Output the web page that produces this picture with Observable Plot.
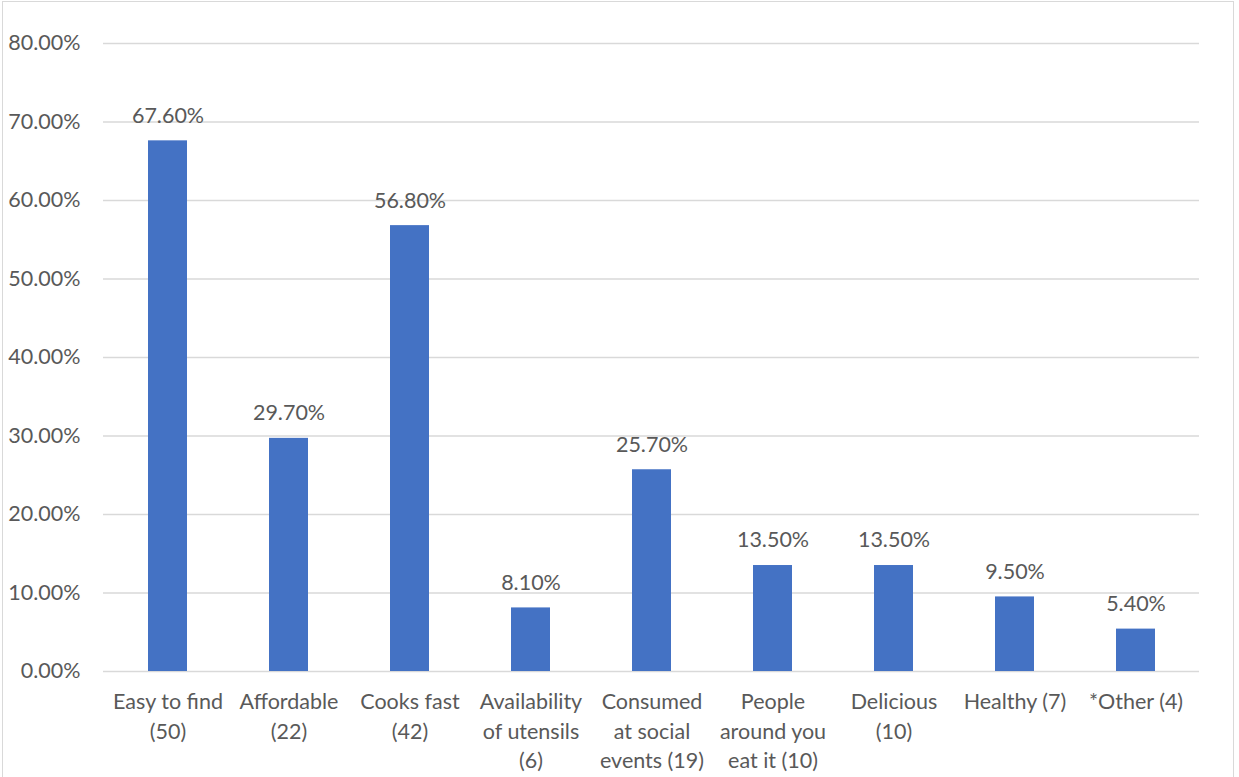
<!DOCTYPE html>
<html>
<head>
<meta charset="utf-8">
<script src="https://cdn.jsdelivr.net/npm/d3@7"></script>
<script src="https://cdn.jsdelivr.net/npm/@observablehq/plot@0.6"></script>
<style>
  html, body { margin: 0; padding: 0; background: #fff; overflow: hidden; }
  #wrap { position: relative; width: 1239px; height: 777px; }
  #wrap svg { position: absolute; left: 0; top: 0; }
  #edge { position: absolute; left: 2px; top: 1px; width: 1232px; height: 790px; border: 1px solid #d9d9d9; box-sizing: border-box; pointer-events: none; }
</style>
</head>
<body>
<div id="wrap"><div id="edge"></div></div>
<script>
// Reasons for choosing the dish (share of respondents, count in brackets)
const categories = [
  "Easy to find\n(50)",
  "Affordable\n(22)",
  "Cooks fast\n(42)",
  "Availability\nof utensils\n(6)",
  "Consumed\nat social\nevents (19)",
  "People\naround you\neat it (10)",
  "Delicious\n(10)",
  "Healthy (7)",
  "*Other (4)"
];
const shares = [67.6, 29.7, 56.8, 8.1, 25.7, 13.5, 13.5, 9.5, 5.4];
const yTicks = [0, 10, 20, 30, 40, 50, 60, 70, 80];

const data = categories.map((c, i) => ({category: c, share: shares[i]}));
const pct = d => d.toFixed(2) + "%";
const textColor = "#595959";
const fs = 21.5;

const chart = Plot.plot({
  width: 1239,
  height: 777,
  marginLeft: 103,
  marginRight: 40,
  marginTop: 43,
  marginBottom: 106,
  style: {fontFamily: "Lato, 'Open Sans', sans-serif", fontSize: fs + "px", color: textColor, background: "transparent"},
  x: {domain: categories, paddingInner: 0.68, paddingOuter: 0.34, label: null},
  y: {domain: [0, 80], ticks: yTicks, label: null},
  marks: [
    Plot.gridY(yTicks, {stroke: "#d9d9d9", strokeOpacity: 1, strokeWidth: 1.5}),
    Plot.barY(data, {x: "category", y: "share", fill: "#4472C4"}),
    Plot.text(data, {x: "category", y: "share", text: d => pct(d.share), dy: -25, fill: textColor, fontSize: fs}),
    Plot.axisY(yTicks, {tickSize: 0, tickPadding: 23, tickFormat: pct, fill: textColor, fontSize: fs, label: null}),
    Plot.axisX({tickSize: 0, tickPadding: 17, lineHeight: 1.37, fill: textColor, fontSize: fs, label: null, textAnchor: "middle", lineAnchor: "top"})
  ]
});
document.getElementById("wrap").prepend(chart);
</script>
</body>
</html>
